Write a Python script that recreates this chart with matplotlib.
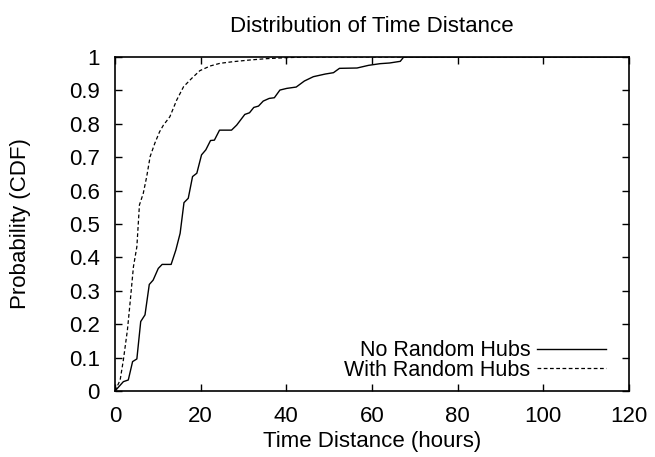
import matplotlib
matplotlib.use("Agg")
import matplotlib.pyplot as plt

plt.rcParams["font.family"] = ["Liberation Sans", "DejaVu Sans"]

# CDF of time distance
no_hubs_x = [0, 1.95, 3.1, 4.1, 5.1, 6.0, 7.0, 8.0, 8.9, 10.1, 11.0, 13.1, 14.2, 15.2,
             16.1, 17.1, 18.1, 19.1, 20.2, 21.2, 22.3, 23.2, 24.4, 27.2, 28.4, 30.3,
             31.4, 32.4, 33.5, 34.6, 36.0, 37.2, 38.5, 40.1, 42.3, 44.2, 46.3, 49.1,
             51.0, 52.4, 56.5, 59.2, 61.9, 64.1, 66.6, 67.4, 120]
no_hubs_y = [0, 0.028, 0.033, 0.088, 0.096, 0.208, 0.228, 0.319, 0.332, 0.367, 0.379,
             0.379, 0.422, 0.472, 0.564, 0.577, 0.642, 0.652, 0.707, 0.722, 0.750, 0.751,
             0.781, 0.781, 0.796, 0.828, 0.833, 0.849, 0.853, 0.868, 0.876, 0.878, 0.901,
             0.906, 0.910, 0.928, 0.941, 0.949, 0.953, 0.966, 0.967, 0.975, 0.980, 0.982,
             0.987, 1.0, 1.0]

with_hubs_x = [0, 1.2, 1.95, 2.9, 3.5, 4.3, 5.1, 5.7, 6.6, 7.4, 8.2, 9.3, 10.4, 11.3,
               12.8, 14.4, 16.0, 17.9, 19.8, 22.2, 24.5, 27.6, 31.5, 35.4, 40.1, 44.7, 120]
with_hubs_y = [0, 0.033, 0.093, 0.183, 0.262, 0.372, 0.432, 0.557, 0.592, 0.642, 0.702,
               0.742, 0.776, 0.796, 0.821, 0.871, 0.911, 0.936, 0.959, 0.973, 0.981,
               0.986, 0.991, 0.995, 0.998, 1.0, 1.0]

x_ticks = [0, 20, 40, 60, 80, 100, 120]
y_ticks = [0, 0.1, 0.2, 0.3, 0.4, 0.5, 0.6, 0.7, 0.8, 0.9, 1]
y_tick_labels = ["0", "0.1", "0.2", "0.3", "0.4", "0.5", "0.6", "0.7", "0.8", "0.9", "1"]

fig = plt.figure(figsize=(6.55, 4.57), dpi=100)
ax = fig.add_axes([0.1756, 0.1444, 0.7847, 0.7309])

ax.plot(no_hubs_x, no_hubs_y, color="black", lw=1.0, label="No Random Hubs")
ax.plot(with_hubs_x, with_hubs_y, color="black", lw=0.9, linestyle=(0, (3, 2)),
        label="With Random Hubs")

ax.set_xlim(0, 120)
ax.set_ylim(0, 1)
ax.set_xticks(x_ticks)
ax.set_yticks(y_ticks)
ax.set_yticklabels(y_tick_labels)
ax.tick_params(direction="in", top=True, right=True, length=5, width=1, labelsize=16, pad=11)
for s in ax.spines.values():
    s.set_linewidth(1.2)

ax.set_title("Distribution of Time Distance", fontsize=16, pad=18)
ax.set_xlabel("Time Distance (hours)", fontsize=16, labelpad=3)
ax.set_ylabel("Probability (CDF)", fontsize=16, labelpad=27)

ax.legend(loc="lower right", bbox_to_anchor=(0.955, 0.03), frameon=False,
          markerfirst=False, fontsize=15.5, handlelength=3.2, handletextpad=0.3,
          labelspacing=-0.05, borderpad=0, borderaxespad=0)

fig.savefig("out.png", dpi=100)
